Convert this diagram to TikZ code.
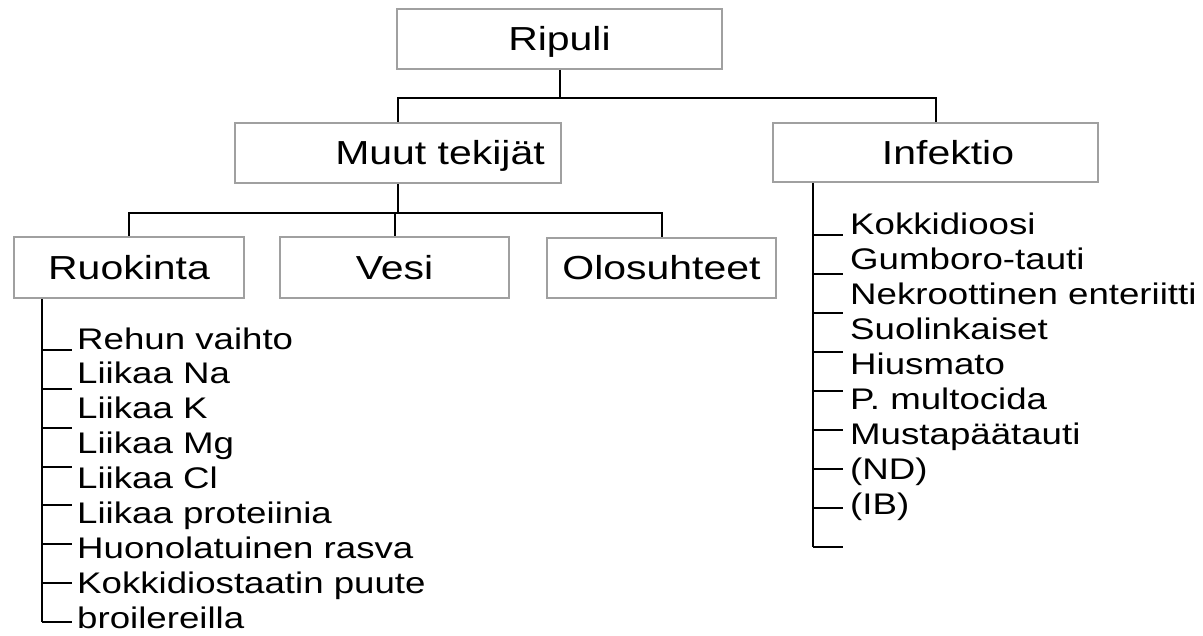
\documentclass[tikz,border=0pt]{standalone}
\usepackage{fontspec}
\setmainfont[FakeStretch=1.23]{Liberation Sans}
\definecolor{boxgray}{RGB}{160,160,160}
\tikzset{
  box/.style={draw=boxgray, line width=1.8pt, fill=white, inner sep=0pt,
    font=\fontsize{33.3}{40}\selectfont, text height=23.8pt, text depth=0pt},
  conn/.style={draw=black, line width=2pt},
  item/.style={inner sep=0pt, anchor=base west, font=\fontsize{29.8}{35}\selectfont},
}
\begin{document}
\begin{tikzpicture}[x=1pt,y=-1pt]
\useasboundingbox (0,0) rectangle (1203,635);
% boxes
\node[box, minimum width=325pt, minimum height=60pt] (ripuli) at (559.5,39) {Ripuli};
\node[box, minimum width=326pt, minimum height=60pt] (muut) at (398,153) {\hspace*{84pt}Muut tekijät};
\node[box, minimum width=325pt, minimum height=59pt] (infektio) at (935.5,152.5) {\hspace*{25pt}Infektio};
\node[box, minimum width=230pt, minimum height=61pt] (ruok) at (129,267.5) {Ruokinta};
\node[box, minimum width=229pt, minimum height=61pt] (vesi) at (394.5,267.5) {Vesi};
\node[box, minimum width=229pt, minimum height=60pt] (olos) at (661.5,268) {Olosuhteet};
% top level connectors
\coordinate (bus1) at (559.5,97.5);
\draw[conn] (ripuli.south) -- (bus1);
\draw[conn] (bus1) -| (muut.north);
\draw[conn] (bus1) -| (infektio.north);
% second level
\coordinate (bus2) at (398,212.5);
\draw[conn] (muut.south) -- (bus2);
\draw[conn] (bus2) -| (ruok.north);
\draw[conn] (bus2) -| (vesi.north);
\draw[conn] (bus2) -| (olos.north);
% left list
\coordinate (rl0) at ([xshift=-87pt]ruok.south);
\coordinate (rl1) at (42,622);
\draw[conn] (rl0) -- (rl1);
\foreach \k in {0,...,7} {
  \draw[conn] (42,{350+38.86*\k}) -- (72,{350+38.86*\k});
}
\foreach \t [count=\i from 0] in {Rehun vaihto, Liikaa Na, Liikaa K, Liikaa Mg, Liikaa Cl, Liikaa proteiinia, Huonolatuinen rasva, Kokkidiostaatin puute, broilereilla} {
  \node[item] (L\i) at (77,{349+34.9*\i}) {\t};
}
% right list
\coordinate (il0) at ([xshift=-122.5pt]infektio.south);
\coordinate (il1) at (813,547);
\draw[conn] (il0) -- (il1);
\foreach \k in {0,...,8} {
  \draw[conn] (813,{235+39*\k}) -- (843,{235+39*\k});
}
\foreach \t [count=\i from 0] in {Kokkidioosi, Gumboro-tauti, Nekroottinen enteriitti, Suolinkaiset, Hiusmato, P. multocida, Mustapäätauti, (ND), (IB)} {
  \node[item] (R\i) at (850,{234+35*\i}) {\t};
}
\end{tikzpicture}
\end{document}
